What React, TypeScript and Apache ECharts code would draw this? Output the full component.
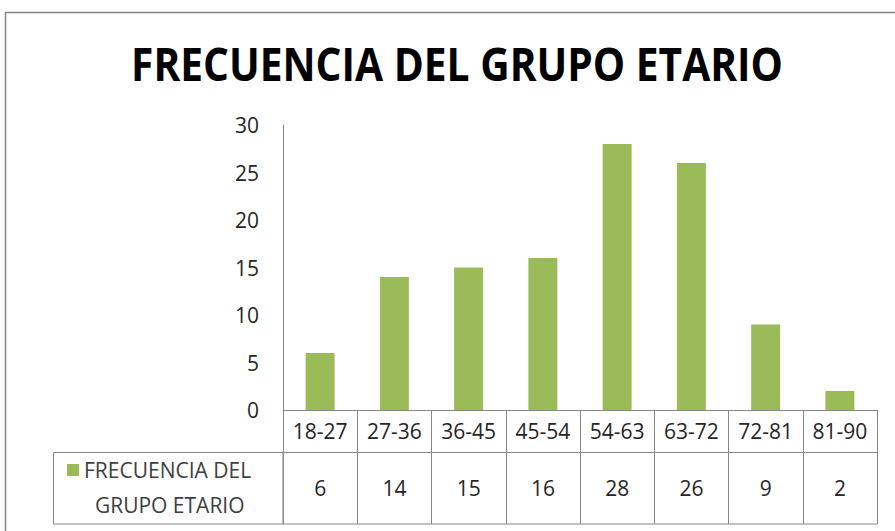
import React, { useEffect, useRef } from "react";
import * as echarts from "echarts";

const categories = ["18-27", "27-36", "36-45", "45-54", "54-63", "63-72", "72-81", "81-90"];
const values = [6, 14, 15, 16, 28, 26, 9, 2];
const seriesName = "FRECUENCIA DEL GRUPO ETARIO";
const titleText = "FRECUENCIA DEL GRUPO ETARIO";

const FONT = "'Open Sans', sans-serif";
const GRAY = "#868686";
const GREEN = "#9BBB59";

export default function App() {
  const ref = useRef<HTMLDivElement>(null);
  useEffect(() => {
    if (!ref.current) return;
    const chart = echarts.init(ref.current, null, { renderer: "svg" });
    chart.setOption({
      animation: false,
      backgroundColor: "#ffffff",
      grid: { left: 283, right: 18, top: 125, bottom: 121, containLabel: false },
      legend: {
        left: 62,
        top: 447,
        itemWidth: 12,
        itemHeight: 46,
        itemGap: 0,
        icon: "path://M0,0L12,0L12,12L0,12Z M0,46L0.01,46L0.01,46.01Z",
        formatter: () => "FRECUENCIA DEL\n  GRUPO ETARIO",
        textStyle: { fontFamily: FONT, fontSize: 21, color: "#404040", lineHeight: 35 },
        data: [seriesName],
      },
      xAxis: [
        {
          type: "category",
          data: categories,
          position: "bottom",
          axisLine: { show: true, lineStyle: { color: GRAY, width: 1 } },
          axisTick: { show: true, interval: 0, alignWithLabel: false, length: 114, lineStyle: { color: GRAY } },
          axisLabel: { interval: 0, fontFamily: FONT, fontSize: 21, color: "#262626", margin: 10 },
        },
        {
          type: "category",
          data: values.map((v) => String(v)),
          position: "bottom",
          offset: 42,
          axisLine: { show: true, lineStyle: { color: GRAY, width: 1 } },
          axisTick: { show: false },
          axisLabel: { interval: 0, fontFamily: FONT, fontSize: 21, color: "#262626", margin: 25 },
        },
      ],
      yAxis: {
        type: "value",
        min: 0,
        max: 30,
        interval: 5,
        axisLine: { show: true, lineStyle: { color: GRAY } },
        axisTick: { show: false },
        splitLine: { show: false },
        axisLabel: { fontFamily: FONT, fontSize: 21, color: "#262626", margin: 24 },
      },
      series: [
        {
          name: seriesName,
          type: "bar",
          data: values,
          barWidth: "39%",
          itemStyle: { color: GREEN },
        },
      ],
      graphic: [
        {
          type: "rect",
          shape: { x: 5.5, y: 12.5, width: 1000, height: 1000 },
          style: { fill: "none", stroke: GRAY, lineWidth: 1.5 },
          silent: true,
        },
        {
          type: "text",
          x: 457,
          y: 64,
          scaleX: 0.885,
          style: {
            text: titleText,
            fontFamily: FONT,
            fontWeight: "bold",
            fontSize: 46,
            fill: "#000000",
            align: "center",
            verticalAlign: "middle",
          },
        },
        {
          type: "rect",
          shape: { x: 53.5, y: 452.5, width: 229.5, height: 71.5 },
          style: { fill: "none", stroke: GRAY, lineWidth: 1 },
        },
        {
          type: "line",
          shape: { x1: 283, y1: 524, x2: 877, y2: 524 },
          style: { stroke: GRAY, lineWidth: 1 },
        },
      ],
    });
    return () => chart.dispose();
  }, []);
  return (
    <div
      ref={ref}
      style={{ position: "absolute", left: 0, top: 0, width: 895, height: 531 }}
    />
  );
}
